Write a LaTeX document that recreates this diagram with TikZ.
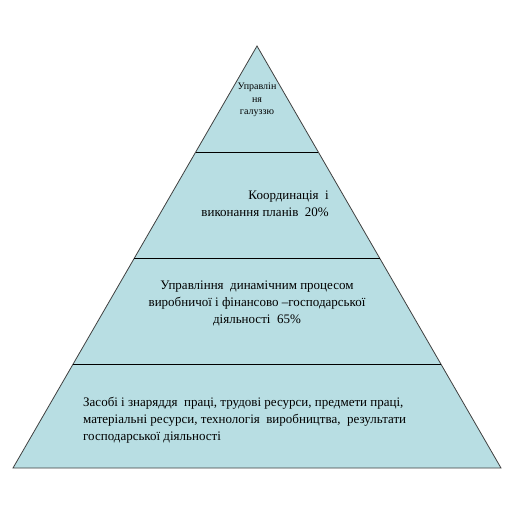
\documentclass[tikz,border=0pt]{standalone}
\usepackage{fontspec}
\setmainfont{Liberation Serif}
\definecolor{pyrfill}{RGB}{184,222,227}
\begin{document}
\begin{tikzpicture}[x=1pt,y=-1pt,
  layer/.style={fill=pyrfill,draw=black!75,line width=0.8pt,line join=miter},
  divider/.style={draw=black,line width=0.9pt},
  lbl/.style={inner sep=0pt,font=\fontsize{13}{16.8}\selectfont}]
\useasboundingbox (0,0) rectangle (514,516);
\coordinate (apex) at (257,46);
\coordinate (bl) at (13,468);
\coordinate (br) at (501,468);
\path[layer] (apex) -- (br) -- (bl) -- cycle;
\coordinate (l1) at (195.7,152); \coordinate (r1) at (318.3,152);
\coordinate (l2) at (134.4,258); \coordinate (r2) at (379.6,258);
\coordinate (l3) at (73.1,364);  \coordinate (r3) at (440.9,364);
\draw[divider] (l1) -- (r1);
\draw[divider] (l2) -- (r2);
\draw[divider] (l3) -- (r3);
\node[lbl,font=\fontsize{10}{12.5}\selectfont,align=center] (t1) at (257,100) {Управлін\\ня\\галуззю};
\node[lbl,align=right,anchor=north east] (t2) at (329,191) {Координація\ \ і\\виконання планів\ \ 20\%};
\node[lbl,align=center,anchor=north] (t3) at (257,281) {Управління\ \ динамічним процесом\\виробничої і фінансово --господарської\\діяльності\ \ 65\%};
\node[lbl,align=left,anchor=north west] (t4) at (83,397) {Засобі і знаряддя\ \ праці, трудові\ ресурси, предмети праці,\\матеріальні\ ресурси, технологія\ \ виробництва,\ \ результати\\господарської діяльності};
\end{tikzpicture}
\end{document}
